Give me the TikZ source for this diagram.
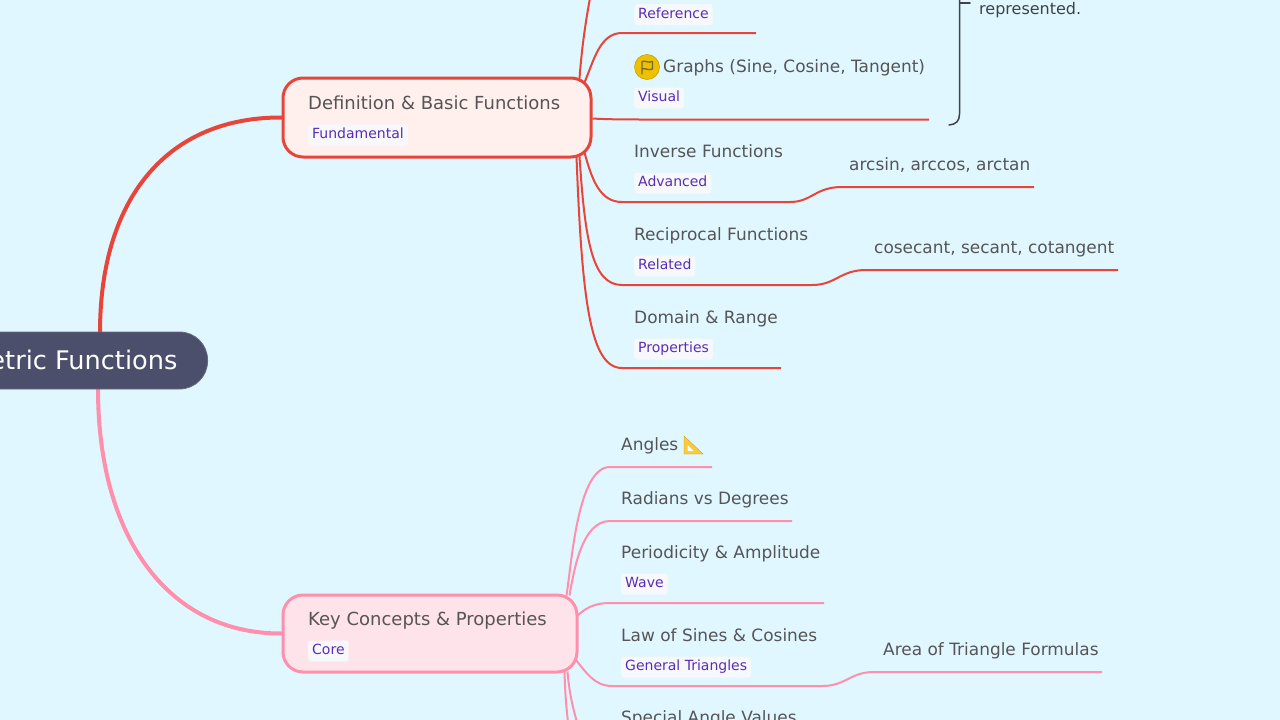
\documentclass[tikz,border=0pt]{standalone}
\usepackage{fontspec}
\setmainfont{DejaVu Sans}
\usetikzlibrary{calc}
\definecolor{bgc}{HTML}{E0F7FF}
\definecolor{rootc}{HTML}{4C4F6B}
\definecolor{redc}{HTML}{E8453A}
\definecolor{redf}{HTML}{FFF0ED}
\definecolor{pinkc}{HTML}{FF8FAB}
\definecolor{pinkf}{HTML}{FFE3EB}
\definecolor{purp}{HTML}{5B2DB3}
\definecolor{tagf}{HTML}{F7F8FB}
\definecolor{txt}{HTML}{555555}
\definecolor{brk}{HTML}{3F4347}
\definecolor{gold}{HTML}{EDC000}
\definecolor{sq}{HTML}{F9CB38}
\pgfdeclarelayer{edges}
\pgfsetlayers{edges,main}
\tikzset{
  x=1pt,y=-1pt,
  item/.style={anchor=base west,inner sep=0pt,text=txt,font=\fontsize{16.95}{20}\selectfont},
  topict/.style={anchor=base west,inner sep=0pt,text=txt,font=\fontsize{18}{20}\selectfont},
  tag/.style={anchor=west,inner xsep=4pt,inner ysep=0pt,text height=14pt,text depth=7pt,fill=tagf,rounded corners=3pt,text=purp,font=\fontsize{14}{16}\selectfont},
  topic/.style={draw,line width=3pt,rounded corners=20pt,inner sep=0pt},
  major/.style={line width=4pt,line cap=round},
  redl/.style={draw=redc,line width=2pt},
  pinkl/.style={draw=pinkc,line width=2pt}
}
\begin{document}
\begin{tikzpicture}
\useasboundingbox (0,0) rectangle (1280,720);
\begin{pgfonlayer}{edges}
\fill[bgc] (0,0) rectangle (1280,720);
\end{pgfonlayer}
% root and topics
\node[fill=rootc,draw=rootc!85!white,line width=.8pt,rounded corners=28pt,minimum height=57pt,minimum width=300pt,anchor=east,inner sep=0pt] (root) at (208,360.5) {};
\node[anchor=base east,inner sep=0pt,text=white,font=\fontsize{25.6}{30}\selectfont] (rootlbl) at (177.5,369) {Trigonometric Functions};
\node[topic,draw=redc,fill=redf,minimum width=308pt,minimum height=79pt,anchor=center] (def) at (437,117.5) {};
\node[topic,draw=pinkc,fill=pinkf,minimum width=294pt,minimum height=77pt,anchor=center] (key) at (430,633.5) {};
\node[topict] (deft) at (308,109.3) {Definition \& Basic Functions};
\node[tag] (deftag) at (308,135) {Fundamental};
\node[topict] (keyt) at (308,625.3) {Key Concepts \& Properties};
\node[tag] (keytag) at (308,651) {Core};
% definition children
\node[tag] (reftag) at (634,14.5) {Reference};
\node[circle,fill=gold,draw=gold!85!black,line width=.6pt,minimum size=25pt,inner sep=0pt] (flag) at (647,67) {};
\draw[brk!70!gold,line width=1.3pt,line join=round,line cap=round] (642,74) -- (642,61.5) .. controls (645,60) and (648,63.5) .. (652.5,61.5) -- (652.5,69) .. controls (648,71) and (645,67.5) .. (642,69);
\node[item] (graph) at (663,72) {Graphs (Sine, Cosine, Tangent)};
\node[tag] (vistag) at (634,98) {Visual};
\node[item] (inv) at (634,157) {Inverse Functions};
\node[tag] (advtag) at (634,183) {Advanced};
\node[item] (arc) at (849,170) {arcsin, arccos, arctan};
\node[item] (rec) at (634,240) {Reciprocal Functions};
\node[tag] (reltag) at (634,266) {Related};
\node[item] (cos) at (874,253) {cosecant, secant, cotangent};
\node[item] (dom) at (634,323) {Domain \& Range};
\node[tag] (protag) at (634,349) {Properties};
\node[anchor=base west,inner sep=0pt,text=brk,font=\fontsize{16}{18}\selectfont] (repr) at (979,14) {represented.};
% key children
\node[item] (ang) at (621,450) {Angles};
\node[item] (rad) at (621,504) {Radians vs Degrees};
\node[item] (per) at (621,558) {Periodicity \& Amplitude};
\node[tag] (wavetag) at (621,584) {Wave};
\node[item] (law) at (621,641) {Law of Sines \& Cosines};
\node[tag] (gentag) at (621,667) {General Triangles};
\node[item] (area) at (883,655) {Area of Triangle Formulas};
\node[item] (spe) at (621,723) {Special Angle Values};
% set-square
\fill[sq] (684,436) -- (703,454) -- (684,454) -- cycle;
\fill[white!60!bgc] (687.5,445) -- (687.5,451) -- (693.5,451) -- cycle;
\draw[sq!80!black,line width=.4pt] (684,436) -- (703,454) -- (684,454) -- cycle;
% free ends
\coordinate (t0) at (590,-2);
\coordinate (e1) at (756,33);
\coordinate (e2) at (929,119.5);
\coordinate (e3) at (1034,187);
\coordinate (e4) at (1118,270);
\coordinate (e5) at (781,368);
\coordinate (k1) at (712,467);
\coordinate (k2) at (792,521);
\coordinate (k3) at (824,603);
\coordinate (k4) at (1102,672);
\coordinate (k5) at (568,722);
\coordinate (k6) at (577,722);
\coordinate (b0) at (970,3);
\coordinate (b1) at (949,125);
\begin{pgfonlayer}{edges}
\draw[major,redc] (root.east) ++(-108,-28) .. controls (100,195) and (170,117) .. (def.west);
\draw[major,pinkc] (root.east) ++(-110,28) .. controls (98,540) and (170,634) .. (key.west);
% def edges
\draw[redl] ($(def.north east)+(-13,2)$) .. controls (582,45) and (586,20) .. (t0);
\draw[redl] ($(def.north east)+(-8,6)$) .. controls (594,60) and (600,33) .. (622,33) -- (e1);
\draw[redl] ($(def.east)+(0,1)$) .. controls (600,119) and (615,119.5) .. (640,119.5) -- (e2);
\draw[redl] ($(def.south east)+(-8,-6)$) .. controls (592,180) and (600,202) .. (622,202) -- (790,202) .. controls (812,202) and (815,187) .. (842,187) -- (e3);
\draw[redl] ($(def.south east)+(-13,-2)$) .. controls (585,240) and (592,285) .. (622,285) -- (812,285) .. controls (836,285) and (840,270) .. (866,270) -- (e4);
\draw[redl] ($(def.south east)+(-16,-2)$) .. controls (582,300) and (590,368) .. (622,368) -- (e5);
% key edges
\draw[pinkl] ($(key.north east)+(-12,2)$) .. controls (572,560) and (578,467) .. (610,467) -- (k1);
\draw[pinkl] ($(key.north east)+(-9,2)$) .. controls (574,570) and (582,521) .. (610,521) -- (k2);
\draw[pinkl] ($(key.north east)+(-1,22)$) .. controls (584,610) and (592,603) .. (610,603) -- (k3);
\draw[pinkl] ($(key.south east)+(-3,-14)$) .. controls (586,672) and (594,686) .. (612,686) -- (822,686) .. controls (846,686) and (850,672) .. (874,672) -- (k4);
\draw[pinkl] ($(key.south east)+(-14,-2)$) .. controls (565,690) and (566,705) .. (k5);
\draw[pinkl] ($(key.south east)+(-11,-2)$) .. controls (569,690) and (572,705) .. (k6);
\end{pgfonlayer}
% bracket
\draw[brk,line width=1.5pt,line cap=round] (b0) -- (959.5,3);
\draw[brk,line width=1.5pt,line cap=round] (959.5,-3) -- (959.5,114) .. controls (959.5,121) and (956,124.5) .. (b1);
\end{tikzpicture}
\end{document}
